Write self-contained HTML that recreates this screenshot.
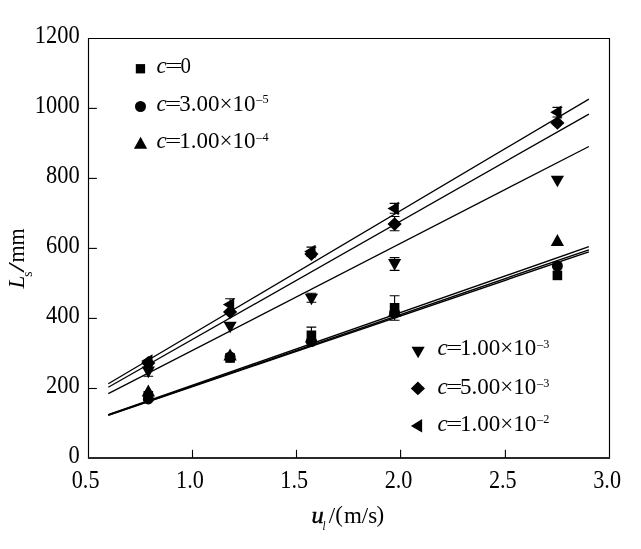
<!DOCTYPE html>
<html><head><meta charset="utf-8"><title>Ls vs ul</title>
<style>html,body{margin:0;padding:0;background:#fff;}body{width:641px;height:549px;overflow:hidden;}svg{display:block;}text{font-family:"Liberation Serif", "DejaVu Serif", serif;fill:#000;}</style>
</head><body>
<svg width="641" height="549" viewBox="0 0 641 549">
<rect x="0" y="0" width="641" height="549" fill="#ffffff"/>
<g stroke="#000" fill="none" stroke-width="1.15">
<path d="M88.5 457.5V38.5H609.5V457.5"/>
</g>
<line x1="87.9" y1="458.0" x2="610.1" y2="458.0" stroke="#2a2a2a" stroke-width="1.8"/>
<g stroke="#000" stroke-width="1.1">
<line x1="192.5" y1="458.0" x2="192.5" y2="449.8"/>
<line x1="296.5" y1="458.0" x2="296.5" y2="449.8"/>
<line x1="400.6" y1="458.0" x2="400.6" y2="449.8"/>
<line x1="505.4" y1="458.0" x2="505.4" y2="449.8"/>
<line x1="88.5" y1="388.5" x2="96.9" y2="388.5"/>
<line x1="88.5" y1="318.4" x2="96.9" y2="318.4"/>
<line x1="88.5" y1="248.4" x2="96.9" y2="248.4"/>
<line x1="88.5" y1="178.4" x2="96.9" y2="178.4"/>
<line x1="88.5" y1="108.4" x2="96.9" y2="108.4"/>
</g>
<g font-size="24.6">
<text transform="translate(85.6,488.3) scale(0.902,1)" text-anchor="middle">0.5</text>
<text transform="translate(189.9,488.3) scale(0.902,1)" text-anchor="middle">1.0</text>
<text transform="translate(294.2,488.3) scale(0.902,1)" text-anchor="middle">1.5</text>
<text transform="translate(398.5,488.3) scale(0.902,1)" text-anchor="middle">2.0</text>
<text transform="translate(502.8,488.3) scale(0.902,1)" text-anchor="middle">2.5</text>
<text transform="translate(607.1,488.3) scale(0.902,1)" text-anchor="middle">3.0</text>
<text transform="translate(79.7,463.0) scale(0.912,1)" text-anchor="end">0</text>
<text transform="translate(79.7,393.1) scale(0.912,1)" text-anchor="end">200</text>
<text transform="translate(79.7,323.1) scale(0.912,1)" text-anchor="end">400</text>
<text transform="translate(79.7,253.2) scale(0.912,1)" text-anchor="end">600</text>
<text transform="translate(79.7,183.3) scale(0.912,1)" text-anchor="end">800</text>
<text transform="translate(79.7,113.3) scale(0.912,1)" text-anchor="end">1000</text>
<text transform="translate(79.7,43.4) scale(0.912,1)" text-anchor="end">1200</text>
</g>
<g stroke="#000" fill="none">
<line x1="108.3" y1="383.8" x2="588.9" y2="99.1" stroke-width="1.3"/>
<line x1="108.3" y1="387.3" x2="588.9" y2="114.1" stroke-width="1.3"/>
<line x1="108.3" y1="393.6" x2="588.9" y2="146.5" stroke-width="1.3"/>
<line x1="108.3" y1="414.6" x2="588.9" y2="246.7" stroke-width="1.4"/>
<line x1="108.3" y1="415.0" x2="588.9" y2="249.8" stroke-width="1.4"/>
<line x1="108.3" y1="415.4" x2="588.9" y2="251.8" stroke-width="1.4"/>
</g>
<g fill="#000" stroke="none">
<rect x="143.5" y="391.0" width="9.6" height="9.6"/>
<rect x="225.3" y="353.2" width="9.6" height="9.6"/>
<path d="M311.4 327.1V343.5M306.5 327.1H316.3M306.5 343.5H316.3" stroke="#000" stroke-width="1.1" fill="none"/>
<rect x="306.6" y="330.5" width="9.6" height="9.6"/>
<path d="M394.6 295.7V320.2M389.7 295.7H399.5M389.7 320.2H399.5" stroke="#000" stroke-width="1.1" fill="none"/>
<rect x="389.8" y="303.0" width="9.6" height="9.6"/>
<rect x="552.6" y="270.6" width="9.6" height="9.6"/>
<circle cx="148.3" cy="398.9" r="5.5"/>
<circle cx="230.1" cy="357.0" r="5.5"/>
<circle cx="311.4" cy="341.5" r="5.5"/>
<circle cx="394.6" cy="313.0" r="5.5"/>
<circle cx="557.4" cy="266.0" r="5.5"/>
<polygon points="148.3,384.5 155.0,396.5 141.7,396.5"/>
<polygon points="230.1,348.4 236.8,360.4 223.4,360.4"/>
<polygon points="311.4,330.5 318.0,342.5 304.8,342.5"/>
<polygon points="394.6,304.5 401.2,316.5 388.0,316.5"/>
<polygon points="557.4,234.0 564.0,246.0 550.8,246.0"/>
<path d="M148.3 364.8V376.2M143.4 364.8H153.2M143.4 376.2H153.2" stroke="#000" stroke-width="1.1" fill="none"/>
<polygon points="148.3,378.2 154.9,366.6 141.7,366.6"/>
<polygon points="230.1,333.3 236.7,321.7 223.5,321.7"/>
<path d="M311.4 293.2V302.2M306.5 293.2H316.3M306.5 302.2H316.3" stroke="#000" stroke-width="1.1" fill="none"/>
<polygon points="311.4,305.3 318.0,293.7 304.8,293.7"/>
<path d="M394.6 257.6V270.4M389.7 257.6H399.5M389.7 270.4H399.5" stroke="#000" stroke-width="1.1" fill="none"/>
<polygon points="394.6,270.7 401.2,259.1 388.0,259.1"/>
<polygon points="557.4,187.3 564.0,175.7 550.8,175.7"/>
<polygon points="148.3,356.1 155.4,363.0 148.3,369.9 141.2,363.0"/>
<polygon points="230.1,305.0 237.2,311.9 230.1,318.8 223.0,311.9"/>
<polygon points="311.4,247.2 318.5,254.1 311.4,261.0 304.3,254.1"/>
<path d="M394.6 216.5V230.7M389.7 216.5H399.5M389.7 230.7H399.5" stroke="#000" stroke-width="1.1" fill="none"/>
<polygon points="394.6,217.2 401.7,224.1 394.6,231.0 387.5,224.1"/>
<polygon points="557.4,116.0 564.5,122.9 557.4,129.8 550.3,122.9"/>
<polygon points="141.2,361.0 152.5,354.2 152.5,367.8"/>
<path d="M230.1 298.7V310.5M225.2 298.7H235.0M225.2 310.5H235.0" stroke="#000" stroke-width="1.1" fill="none"/>
<polygon points="222.9,304.6 234.2,297.9 234.2,311.4"/>
<path d="M311.4 247.1V256.1M306.5 247.1H316.3M306.5 256.1H316.3" stroke="#000" stroke-width="1.1" fill="none"/>
<polygon points="304.2,251.6 315.5,244.8 315.5,258.4"/>
<path d="M394.6 203.4V213.2M389.7 203.4H399.5M389.7 213.2H399.5" stroke="#000" stroke-width="1.1" fill="none"/>
<polygon points="387.5,208.6 398.8,201.8 398.8,215.3"/>
<path d="M557.4 107.4V117.0M552.5 107.4H562.3M552.5 117.0H562.3" stroke="#000" stroke-width="1.1" fill="none"/>
<polygon points="550.2,112.2 561.5,105.5 561.5,119.0"/>
</g>
<g fill="#000" stroke="none">
<rect x="135.8" y="64.1" width="9.3" height="9.3"/>
<circle cx="140.5" cy="106.5" r="5.5"/>
<polygon points="140.6,136.8 147.2,148.8 133.9,148.8"/>
<polygon points="418.1,358.3 424.7,346.7 411.5,346.7"/>
<polygon points="417.9,381.5 425.0,388.4 417.9,395.3 410.8,388.4"/>
<polygon points="410.9,425.9 422.1,419.1 422.1,432.6"/>
</g>
<text transform="translate(156.6,72.9) scale(0.958,1)" font-size="24" font-style="italic">c</text><text transform="translate(165.1,65.4) scale(1.30,0.8)" font-size="24" y="7.97">=</text><text transform="translate(180.5,72.9) scale(0.870,1)" font-size="24">0</text>
<text transform="translate(156.6,110.7) scale(0.958,1)" font-size="24" font-style="italic">c</text><text transform="translate(165.1,103.2) scale(1.20,0.8)" font-size="24" y="7.97">=</text><text transform="translate(179.2,110.7) scale(0.958,1)" font-size="24">3.00×10<tspan font-size="12.8" dy="-7.5" dx="0.9">–5</tspan></text>
<text transform="translate(156.6,148.0) scale(0.958,1)" font-size="24" font-style="italic">c</text><text transform="translate(165.1,140.5) scale(1.20,0.8)" font-size="24" y="7.97">=</text><text transform="translate(179.2,148.0) scale(0.958,1)" font-size="24">1.00×10<tspan font-size="12.8" dy="-7.5" dx="0.9">–4</tspan></text>
<text transform="translate(437.4,355.1) scale(0.958,1)" font-size="24" font-style="italic">c</text><text transform="translate(445.9,347.6) scale(1.20,0.8)" font-size="24" y="7.97">=</text><text transform="translate(460.0,355.1) scale(0.958,1)" font-size="24">1.00×10<tspan font-size="12.8" dy="-7.5" dx="0.9">–3</tspan></text>
<text transform="translate(437.4,394.0) scale(0.958,1)" font-size="24" font-style="italic">c</text><text transform="translate(445.9,386.5) scale(1.20,0.8)" font-size="24" y="7.97">=</text><text transform="translate(460.0,394.0) scale(0.958,1)" font-size="24">5.00×10<tspan font-size="12.8" dy="-7.5" dx="0.9">–3</tspan></text>
<text transform="translate(437.4,430.8) scale(0.958,1)" font-size="24" font-style="italic">c</text><text transform="translate(445.9,423.3) scale(1.20,0.8)" font-size="24" y="7.97">=</text><text transform="translate(460.0,430.8) scale(0.958,1)" font-size="24">1.00×10<tspan font-size="12.8" dy="-7.5" dx="0.9">–2</tspan></text>
<g font-size="24">
<text transform="translate(311.6,522.6) scale(1.02,1)" font-style="italic" stroke="#000" stroke-width="0.45">u</text>
<text transform="translate(322.5,530.2) scale(0.958,1)" font-style="italic" font-size="11.5">l</text>
<text transform="translate(328.8,522.6) scale(0.958,1)">/</text>
<text transform="translate(335.2,521.8) scale(0.958,1)">(</text>
<text transform="translate(343.9,522.6) scale(0.958,1)">m/s</text>
<text transform="translate(376.6,521.8) scale(0.958,1)">)</text>
</g>
<g transform="translate(23.8,288.3) rotate(-90)" font-size="24">
<text transform="translate(-0.3,0) scale(0.958,1)" font-style="italic">L</text>
<text transform="translate(11.6,8.2) scale(0.958,1)" font-size="14">s</text>
<text transform="translate(15.5,0) scale(1.62,1)">/</text>
<text transform="translate(25.7,0) scale(0.915,1)">mm</text>
</g>
</svg></body></html>
